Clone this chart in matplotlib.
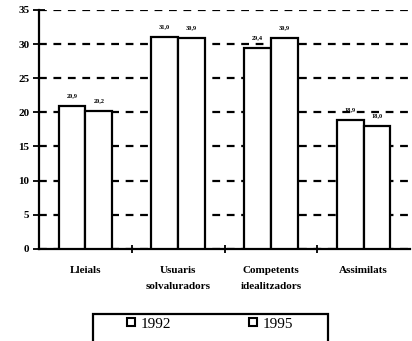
import numpy as np
import matplotlib.pyplot as plt
from matplotlib.lines import Line2D
from matplotlib.patches import Rectangle

# Percentatge per tipologia, 1992 vs 1995
categories = ['Lleials', 'Usuaris\nsolvaluradors', 'Competents\nidealitzadors', 'Assimilats']
years = ['1992', '1995']
vals_1992 = [20.9, 31.0, 29.4, 18.9]
vals_1995 = [20.2, 30.9, 30.9, 18.0]
yticks = [0, 5, 10, 15, 20, 25, 30, 35]

plt.rcParams['font.family'] = ['Liberation Serif', 'DejaVu Serif']

fig = plt.figure(figsize=(4.12, 3.41), dpi=100)
ax = fig.add_axes([0.095, 0.27, 0.9, 0.701])

x = np.arange(len(categories))
w = 0.29
for off, vals in [(-w / 2, vals_1992), (w / 2, vals_1995)]:
    bars = ax.bar(x + off, vals, w, color='white', edgecolor='black', linewidth=1.6, zorder=3)
    for b, v in zip(bars, vals):
        ax.text(b.get_x() + b.get_width() / 2, v + 1.2, f'{v:.1f}'.replace('.', ','),
                ha='center', va='bottom', fontsize=4.5, fontweight='bold')

ax.set_xlim(-0.5, 3.5)
ax.set_ylim(0, 35)
ax.set_yticks(yticks)
ax.set_yticklabels([str(t) for t in yticks], fontsize=8, fontweight='bold')
ax.yaxis.grid(True, color='black', linestyle=(0, (3.5, 3)), linewidth=1.6, zorder=0)
ax.tick_params(axis='y', direction='inout', length=8, width=1.3, pad=3)

ax.set_xticks([0.5, 1.5, 2.5])
ax.set_xticklabels([])
ax.set_xticks(x, minor=True)
ax.set_xticklabels(categories, minor=True, fontsize=8, fontweight='bold', linespacing=2.0)
ax.tick_params(axis='x', which='major', direction='inout', length=6, width=1.3)
ax.tick_params(axis='x', which='minor', length=0, pad=12)

for s in ['top', 'right']:
    ax.spines[s].set_visible(False)
for s in ['left', 'bottom']:
    ax.spines[s].set_linewidth(1.6)

# legend frame, open at the bottom edge of the figure
fig.patches.append(Rectangle((0.226, -0.05), 0.57, 0.129, transform=fig.transFigure,
                             facecolor='none', edgecolor='black', linewidth=1.6))
handles = [Line2D([], [], marker='s', linestyle='none', markersize=6,
                  markerfacecolor='white', markeredgecolor='black', markeredgewidth=1.5)
           for _ in years]
fig.legend(handles, years, loc='center', bbox_to_anchor=(0.508, 0.05),
           ncol=2, frameon=False, fontsize=11, handlelength=0.7, handletextpad=0.3,
           columnspacing=5.0, borderpad=0.0)

fig.savefig('out.png', dpi=100)
